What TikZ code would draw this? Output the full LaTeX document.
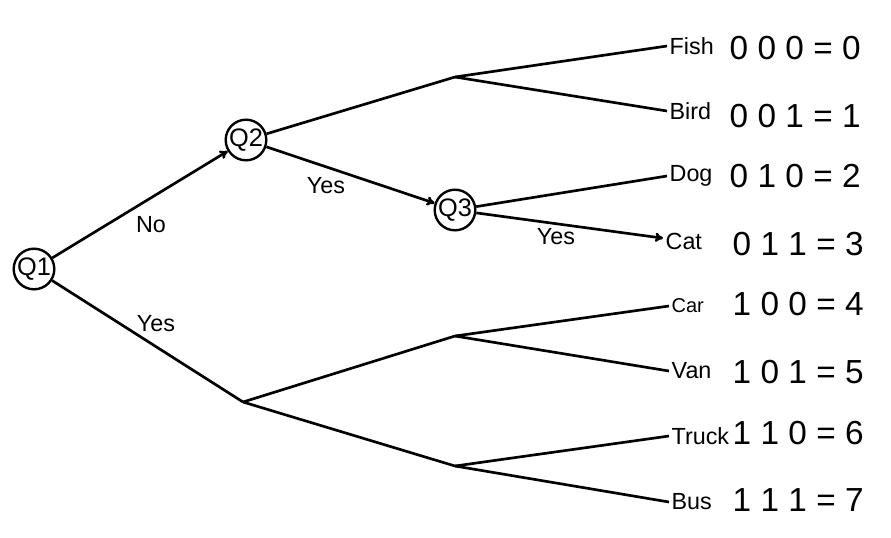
\documentclass[tikz,border=0pt]{standalone}
\usepackage{fontspec}
\setmainfont{Liberation Sans}
\usetikzlibrary{arrows.meta}

\newcommand{\codefont}{\fontsize{25pt}{25pt}\selectfont\spaceskip 0.28em\relax}

\tikzstyle{question}=[
    circle,
    line width=1.8pt,
    minimum size=28.5pt,
    inner sep=0pt,
    draw=black,
    font=\fontsize{19pt}{19pt}\selectfont
]
\tikzstyle{leaf}=[
    anchor=west,
    inner sep=1pt,
    font=\fontsize{17.5pt}{17.5pt}\selectfont
]
\tikzstyle{code}=[
    anchor=east,
    inner sep=0pt,
    font=\codefont
]
\tikzstyle{answer}=[
    font=\fontsize{17.5pt}{17.5pt}\selectfont
]

\begin{document}
\begin{tikzpicture}[x=0.75pt,y=-0.75pt,>={To[length=6pt,width=7pt]},line width=2pt]
	\useasboundingbox (0,0) rectangle (891,537);
	% QUESTIONS
	\node (q1) [question] at (34,269) {Q1};
	\node (q2) [question] at (246,140) {Q2};
	\node (q3) [question] at (455,210) {Q3};
	% FORKS
	\coordinate (fork_a) at (455,77);
	\coordinate (fork_b) at (243,402);
	\coordinate (fork_c) at (455,336);
	\coordinate (fork_d) at (455,466);
	% LEAVES
	\node (fish) [leaf] at (667,46) {Fish};
	\node (bird) [leaf] at (667,111) {Bird};
	\node (dog) [leaf] at (667,176) {Dog};
	\node (cat) [leaf] at (663,241) {Cat};
	\node (car) [leaf,font=\fontsize{15pt}{15pt}\selectfont] at (669,306) {Car};
	\node (van) [leaf] at (669,371) {Van};
	\node (truck) [leaf] at (669,436) {Truck};
	\node (bus) [leaf] at (669,502) {Bus};
	% CODES
	\node (c_0) [code] at (862,48) {0 0 0 = 0};
	\node (c_1) [code] at (862,116) {0 0 1 = 1};
	\node (c_2) [code] at (862,176) {0 1 0 = 2};
	\node (c_3) [code] at (865,244) {0 1 1 = 3};
	\node (c_4) [code] at (865,304) {1 0 0 = 4};
	\node (c_5) [code] at (865,372) {1 0 1 = 5};
	\node (c_6) [code] at (865,433) {1 1 0 = 6};
	\node (c_7) [code] at (865,500) {1 1 1 = 7};
	% ANSWERS
	\node (no_1) [answer] at (151,225) {No};
	\node (yes_1) [answer] at (156,324) {Yes};
	\node (yes_2) [answer] at (326,186) {Yes};
	\node (yes_3) [answer] at (556,237) {Yes};

	\path
	% Arrows
	(q1) edge[->] (q2)
	(q2) edge[->] (q3)
	(q3) edge[->] (cat)

	% Plain branches
	(q1) edge (fork_b)
	(q2) edge (fork_a)
	(fork_a) edge (fish.west)
	(fork_a) edge (bird.west)
	(q3) edge (dog.west)
	(fork_b) edge (fork_c)
	(fork_b) edge (fork_d)
	(fork_c) edge (car.west)
	(fork_c) edge (van.west)
	(fork_d) edge (truck.west)
	(fork_d) edge (bus.west)
	;
\end{tikzpicture}
\end{document}
